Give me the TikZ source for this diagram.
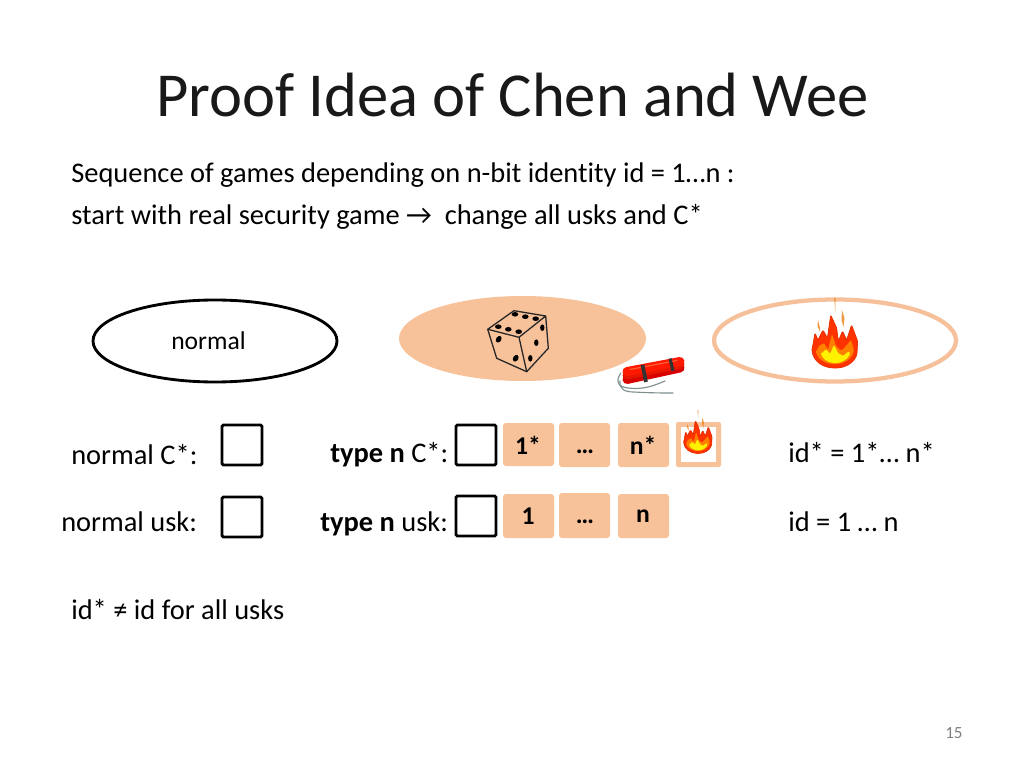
\documentclass[tikz,border=0pt]{standalone}
\usepackage{fontspec}
\setmainfont{Carlito}[Ligatures=NoCommon]
\definecolor{peach}{HTML}{F7C299}
\definecolor{peachline}{HTML}{F6C19A}
\definecolor{fuse}{HTML}{7F8F8F}
\tikzset{
  tx/.style={anchor=base west,inner sep=0pt,font=\fontsize{20}{24}\selectfont,text=black},
  bit/.style={anchor=center,inner sep=0pt,font=\fontsize{18}{22}\selectfont\bfseries,text=black},
  check/.style={draw=black,line width=2pt,rounded corners=1pt,fill=white},
  tile/.style={fill=peach,rounded corners=2pt},
  pics/flame/.style={code={
    \fill[orange!70!brown,opacity=.8] (-.7,-50) -- (.6,-50) -- (.2,-36) -- cycle;
    \fill[orange!70!brown,opacity=.8] (7,-38) -- (9.5,-30) -- (8.5,-21) -- (6.5,-28) -- cycle;
    \fill[orange!70!brown,opacity=.8] (-17,-28) -- (-15,-20) -- (-15,-16) -- (-17.5,-22) -- cycle;
    \fill[fill=orange!40!red,draw=red!60!orange!90!black,line width=.5pt,rounded corners=.8pt]
      (-23,2) -- (-20,-15) -- (-17,-8) -- (-12,-18) -- (-7.6,-10) -- (-4.3,-33) -- (1.7,-20)
      -- (3.3,-7) -- (7.6,-17) -- (11.6,-8) -- (16.6,-23) -- (22.6,-7) -- (22,6)
      .. controls (19,15) and (10,20) .. (0,20) .. controls (-12,20) and (-22,13) .. (-23,2) -- cycle;
    \fill[fill=orange,rounded corners=.8pt]
      (-19,4) -- (-16,-2) -- (-11,-5) -- (-7,2) -- (-3,-14) -- (1,-2) -- (6,3) -- (11,-2) -- (16,-8) -- (19,2)
      .. controls (17,11) and (9,16) .. (0,16) .. controls (-10,16) and (-17,11) .. (-19,4) -- cycle;
    \fill[fill=yellow,rounded corners=.8pt]
      (-14,6) -- (-9,1) -- (-5,6) -- (-1,-3) -- (3,5) -- (8,8) -- (14,3) -- (15,6)
      .. controls (12,12) and (6,15) .. (0,15) .. controls (-7,15) and (-12,11) .. (-14,6) -- cycle;
  }}
}
\begin{document}
\begin{tikzpicture}[x=0.703125pt,y=-0.703125pt]
\useasboundingbox[fill=white] (0,0) rectangle (1024,768);
% title and text
\node[tx,font=\fontsize{44}{52}\selectfont,text=black!90] (title) at (156,117) {Proof Idea of Chen and Wee};
\node[tx] (l1) at (71,183) {Sequence of games depending on n-bit identity id = 1…n :};
\node[tx] (l2) at (71,225) {start with real security game → ~change all usks and C*};
% ellipses
\draw[black,line width=2pt] (215,341) ellipse [x radius=122,y radius=41];
\node[tx,font=\fontsize{18}{22}\selectfont] (normal) at (171,349) {normal};
\fill[peach] (522.5,338.5) ellipse [x radius=123.5,y radius=42.5];
\draw[peachline,line width=3pt] (835,340.5) ellipse [x radius=121,y radius=41];
% die
\begin{scope}[line width=.9pt,line join=round,draw=black!85]
\draw (487.7,329.3) -- (514,310.7) -- (545.7,316) -- (519,337.3) -- cycle;
\draw (487.7,329.3) -- (496.7,358.3) -- (526.7,371.7) -- (548.3,348.3) -- (545.7,316);
\draw (519,337.3) -- (526.7,371.7);
\foreach \a/\b in {515/314.3,525.3/316.7,535.7/318.7,498.3/326.7,508.3/329.3,518.7/331.7}
  \fill[black] (\a,\b) ellipse [x radius=3.3,y radius=2.3];
\foreach \a/\b in {542.3/327.7,536.3/342.7,530.3/358.3}
  \fill[black] (\a,\b) ellipse [x radius=2.2,y radius=3.3];
\foreach \a/\b in {498.7/339.3,515.7/358.3}
  \fill[black,rotate around={-30:(\a,\b)}] (\a,\b) ellipse [x radius=2.6,y radius=3.6];
\end{scope}
% dynamite
\begin{scope}[line cap=round]
\draw[fuse,line width=.8pt] (621,373) .. controls (615,381) and (618,387) .. (628,388) .. controls (645,390) and (655,385) .. (665,381);
\draw[fuse,line width=.8pt] (620,381) .. controls (619,390) and (626,392) .. (634,392) .. controls (650,393) and (665,393) .. (673,393);
\draw[red!85!black,line width=6.3pt] (627,379.5) -- (680,368);
\draw[red!80!orange!90!black,line width=6.3pt] (627,375) -- (680,364.5);
\draw[red!80!orange,line width=6.3pt] (627,371.5) -- (680,361.5);
\draw[red!55!orange!80!white,line width=.8pt] (630,369.5) -- (677,360.5);
\draw[black!80,line width=2.6pt,line cap=butt] (642.5,365) -- (646,382);
\draw[black!80,line width=2.2pt,line cap=butt] (670,358.5) -- (673,371);
\end{scope}
% flames
\pic at (835,348) {flame};
\fill[peach,rounded corners=1.5pt] (676,422) rectangle (721,467);
\fill[white] (681,427) rectangle (716,462);
\pic[scale=.62] at (698,441) {flame};
% row 1
\node[tx] (nc) at (71,464) {normal C*:};
\draw[check] (222,425) rectangle (262,465);
\node[tx] (tc) at (330,462) {\textbf{type n} C*:};
\draw[check] (456,425) rectangle (496,465);
\fill[tile] (503,423) rectangle (554,466);
\node[bit] (s1) at (528,445) {1*};
\fill[tile] (559,423) rectangle (610,467);
\node[bit] (sd) at (585,452) {…};
\fill[tile] (618,423) rectangle (669,467);
\node[bit] (sn) at (643,445) {n*};
\node[tx] (ids) at (788,462) {id* = 1*… n*};
% row 2
\node[tx] (nu) at (61,531) {normal usk:};
\draw[check] (222,497) rectangle (262,537);
\node[tx] (tu) at (320,531) {\textbf{type n} usk:};
\draw[check] (456,496) rectangle (496,536);
\fill[tile] (503,494) rectangle (554,538);
\node[bit] (b1) at (528,516) {1};
\fill[tile] (559,493) rectangle (610,538);
\node[bit] (bd) at (585,522) {…};
\fill[tile] (618,494) rectangle (669,538);
\node[bit] (bn) at (643,516) {n};
\node[tx] (idu) at (788,531) {id = 1 … n};
\node[tx] (neq) at (71,619) {id* ≠ id for all usks};
\node[tx,font=\fontsize{12}{14}\selectfont,text=black!50] (pg) at (945,738) {15};
\end{tikzpicture}
\end{document}
